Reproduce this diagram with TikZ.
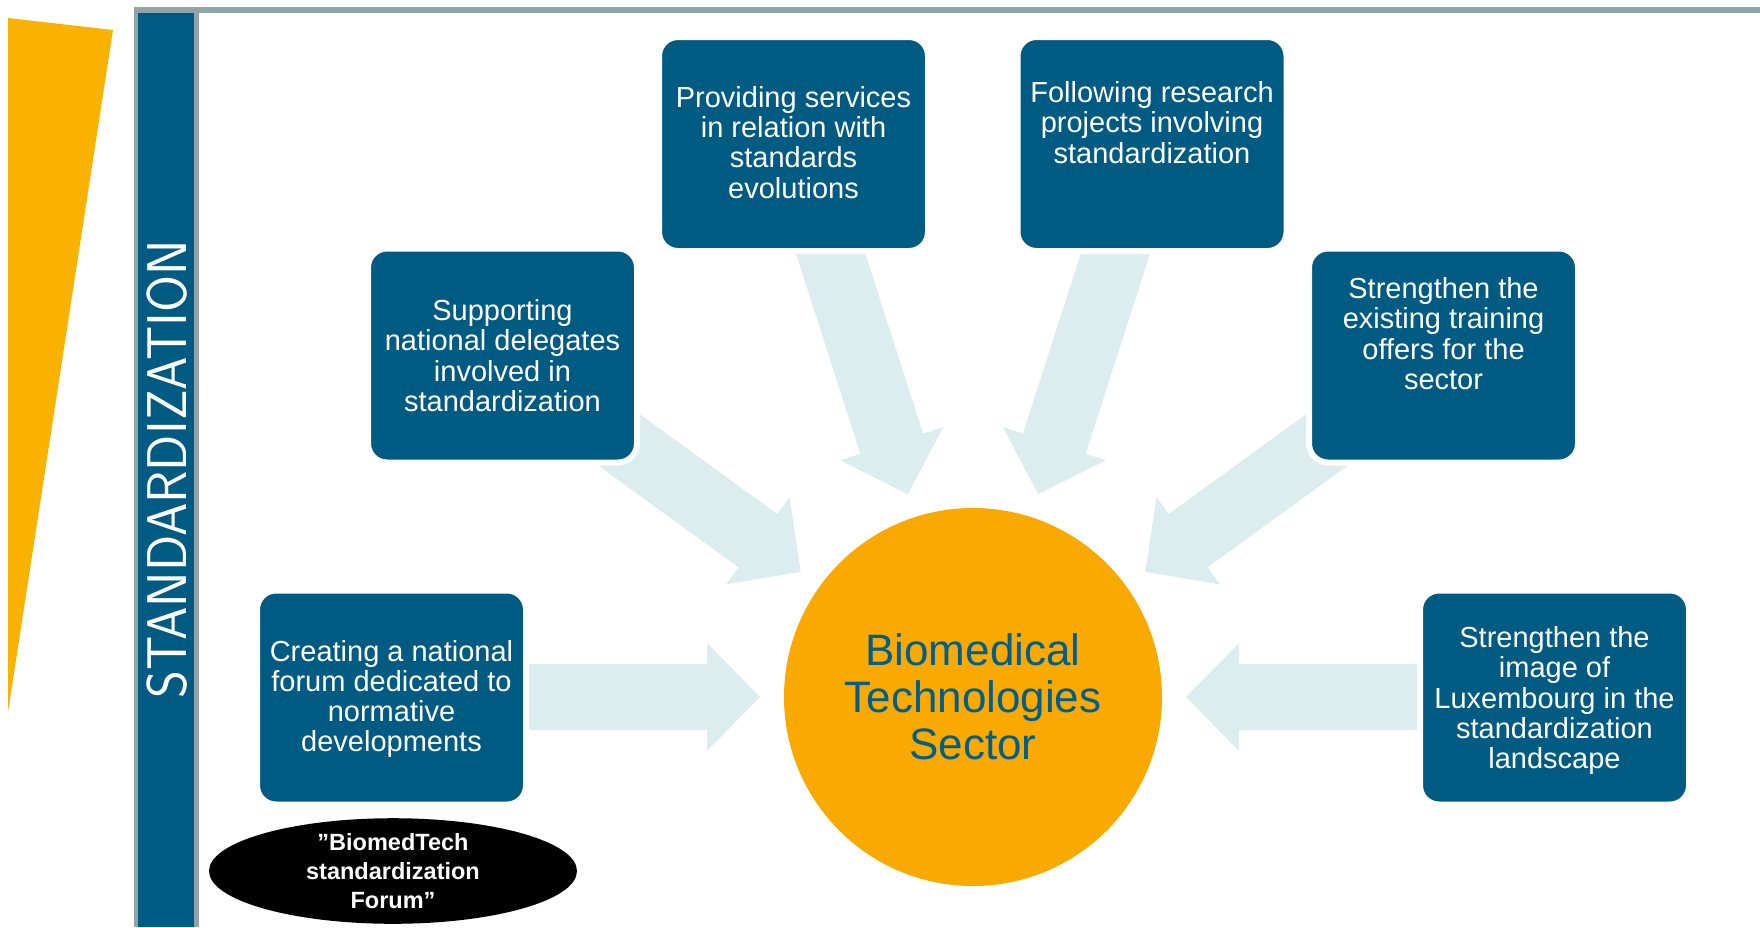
\documentclass[tikz,border=0pt]{standalone}
\usepackage{fontspec}
\usepackage{graphicx}
\setmainfont{Liberation Sans}
\usetikzlibrary{shapes.geometric,calc}
\definecolor{boxblue}{RGB}{0,91,130}
\definecolor{secorange}{RGB}{250,169,0}
\definecolor{sectext}{RGB}{0,94,138}
\definecolor{arrowcol}{RGB}{219,237,239}
\definecolor{framegray}{RGB}{143,165,170}
\definecolor{yellowcol}{RGB}{249,178,0}
\newcommand\bioarrow[2]{%
  \begin{scope}[shift={(sec.center)}, rotate=#1]
    \fill[arrowcol] (-213,0) -- (-266,54) -- (-266,33) -- (-#2,33) -- (-#2,-33)
      -- (-266,-33) -- (-266,-54) -- cycle;
  \end{scope}}
\tikzset{
  actbox/.style={rectangle, rounded corners=19, fill=boxblue, draw=white, line width=6,
    minimum width=269, minimum height=214, inner sep=0},
  acttext/.style={text=white, align=center, inner sep=0,
    font=\fontsize{29}{30.3}\selectfont},
}
\begin{document}
\begin{tikzpicture}[x=1pt,y=1pt]
\useasboundingbox (0,0) rectangle (1760,-927);
% left decoration
\fill[yellowcol] (8,-18) -- (113,-30) -- (8,-712) -- cycle;
\fill[framegray] (134,-7) rectangle (1760,-12.5);
\fill[framegray] (134,-7) rectangle (199,-927);
\fill[boxblue] (138,-12.5) rectangle (194,-927);
\node[rotate=90, text=white, inner sep=0, font=\sffamily\fontsize{56}{56}\selectfont]
  (title) at (167.5,-469.5) {\scalebox{0.955}[1]{STANDARDIZATION}};
% central circle
\node[circle, fill=secorange, minimum size=378, inner sep=0, text=sectext, align=center,
  font=\fontsize{44}{47}\selectfont] (sec) at (973,-697)
  {Biomedical\\Technologies\\Sector};
% block arrows
\bioarrow{0}{470}
\bioarrow{180}{470}
\bioarrow{-36}{470}
\bioarrow{-144}{470}
\bioarrow{-72.2}{490}
\bioarrow{-107.8}{490}
% boxes
\node[actbox] (a) at (391.5,-697.5) {};
\node[actbox] (b) at (502.5,-355.5) {};
\node[actbox] (c) at (793.5,-144) {};
\node[actbox] (d) at (1152,-144) {};
\node[actbox] (e) at (1443.5,-355.5) {};
\node[actbox] (f) at (1554.5,-697.5) {};
\node[acttext] (at) at ([yshift=-1.5]a.center) {Creating a national\\forum dedicated to\\normative\\developments};
\node[acttext] (bt) at ([yshift=0]b.center) {Supporting\\national delegates\\involved in\\standardization};
\node[acttext] (ct) at ([yshift=1.6]c.center) {Providing services\\in relation with\\standards\\evolutions};
\node[acttext] (dt) at ([yshift=21.5]d.center) {Following research\\projects involving\\standardization};
\node[acttext] (et) at ([yshift=22]e.center) {Strengthen the\\existing training\\offers for the\\sector};
\node[acttext] (ft) at ([yshift=-3]f.center) {Strengthen the\\image of\\Luxembourg in the\\standardization\\landscape};
% forum ellipse
\node[ellipse, fill=black, minimum width=368, minimum height=96, inner sep=0,
  text=white, align=center, font=\bfseries\fontsize{23.5}{28.7}\selectfont]
  (forum) at (393,-871) {”BiomedTech\\standardization\\Forum”};
\end{tikzpicture}
\end{document}
